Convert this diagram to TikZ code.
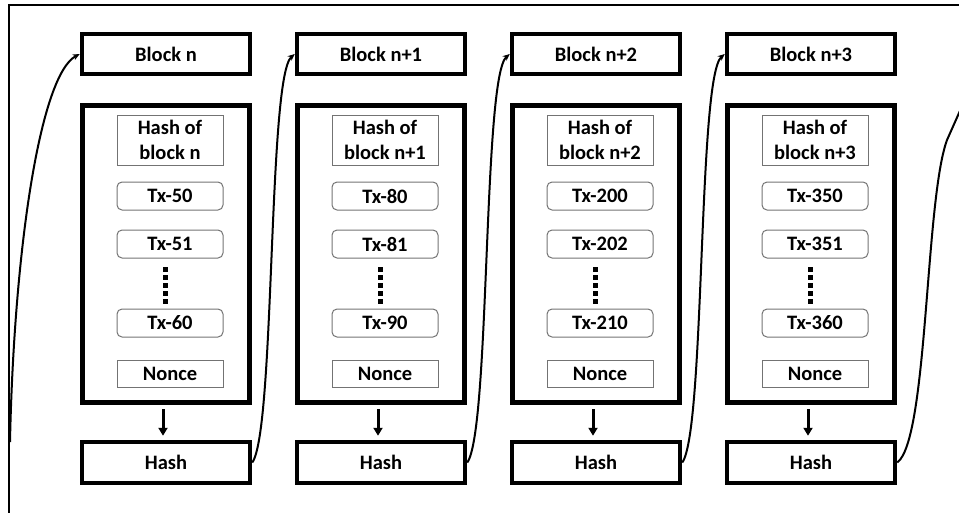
\documentclass[tikz,border=0pt]{standalone}
\usepackage{fontspec}
\setmainfont{Carlito}
\usetikzlibrary{arrows.meta}
\begin{document}
\begin{tikzpicture}[x=1pt,y=-1pt,
 txt/.style={font=\fontsize{20.5}{25}\selectfont\bfseries, text=black, inner sep=0pt, align=center},
 blockbox/.style={txt, draw, line width=4.5pt, minimum width=168pt, minimum height=40pt},
 bigbox/.style={draw, line width=5pt, minimum width=167pt, minimum height=297pt, inner sep=0pt},
 hashbox/.style={txt, draw, line width=4.5pt, minimum width=168pt, minimum height=41pt},
 hofbox/.style={txt, draw=black!55, line width=1pt, minimum width=106pt, minimum height=50pt},
 txbox/.style={txt, draw=black!55, line width=1pt, rounded corners=5pt, minimum width=106pt, minimum height=28pt},
 noncebox/.style={txt, draw=black!55, line width=1pt, minimum width=106pt, minimum height=27pt},
 link/.style={line width=2pt, -{Stealth[length=7pt,width=6pt]}},
 plainlink/.style={line width=2pt},
 downarrow/.style={line width=3pt, -{Triangle[length=8pt,width=9pt]}, shorten <=4pt, shorten >=4pt},
 dotbox/.style={fill=black}
]
\useasboundingbox (0,0) rectangle (959,512);
\begin{scope}
\clip (0,0) rectangle (959,512);
\draw[line width=2.5pt] (9,5) rectangle (990,540);

\foreach \i/\lab/\a/\b/\c in {0/n/50/51/60, 1/n+1/80/81/90, 2/n+2/200/202/210, 3/n+3/350/351/360} {
  \pgfmathsetmacro\L{80+215*\i}
  \node[blockbox] (blk\i) at (\L+86,54) {Block \lab};
  \node[bigbox] (big\i) at (\L+86,254) {};
  \node[hashbox] (hash\i) at (\L+86,462.5) {Hash};
  \node[hofbox] (hof\i) at (\L+90,140) {Hash of\\block \lab};
  \node[txbox] (txa\i) at (\L+90,196) {Tx-\a};
  \node[txbox] (txb\i) at (\L+90,244) {Tx-\b};
  \node[txbox] (txc\i) at (\L+90,323) {Tx-\c};
  \node[noncebox] (nonce\i) at (\L+90,373.5) {Nonce};
  \foreach \k in {0,...,4} {
    \fill[dotbox] (\L+82.5,267+8*\k) rectangle +(5,5);
  }
  \draw[downarrow] ([xshift=-3pt]big\i.south) -- ([xshift=-3pt]hash\i.north);
}

\coordinate (in0) at (10,442);
\draw[link] (in0) .. controls (14,250) and (40,75) .. (blk0.west);
\draw[link] (hash0.east) .. controls +(23,-32) and +(-27,23) .. (blk1.west);
\draw[link] (hash1.east) .. controls +(23,-32) and +(-27,23) .. (blk2.west);
\draw[link] (hash2.east) .. controls +(23,-32) and +(-27,23) .. (blk3.west);
\coordinate (bend3) at (947,140);
\coordinate (out3) at (963,104);
\draw[plainlink] (hash3.east) .. controls (928,440) and (925,200) .. (bend3) -- (out3);
\end{scope}
\end{tikzpicture}
\end{document}
